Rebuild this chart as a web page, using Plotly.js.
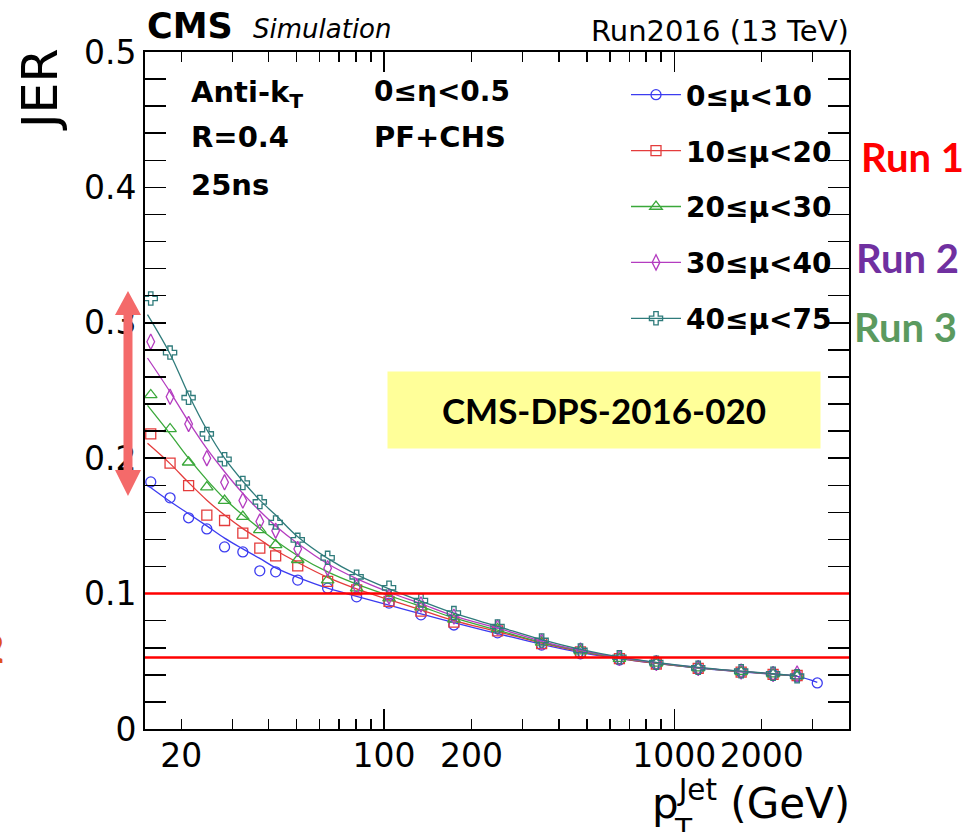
<!DOCTYPE html>
<html>
<head>
<meta charset="utf-8">
<script src="https://cdn.plot.ly/plotly-3.0.1.min.js"></script>
<style>
  html, body { margin: 0; padding: 0; background: #fff; }
  #chart { width: 971px; height: 832px; }
</style>
</head>
<body>
<div id="chart"></div>
<script>
// Jet pT bin centres (GeV)
const ptBins = [15.7, 18.3, 21.2, 24.5, 28.2, 32.6, 37.3, 42.3, 50.4, 63.9, 80.4, 104, 134, 174, 246, 349, 475, 647, 867, 1209, 1700, 2190, 2650];
const ptBinsLow = ptBins.concat([3110]);

// Measured jet energy resolution per pile-up bin
const jerMu0to10  = [0.1825, 0.1707, 0.156, 0.1478, 0.1345, 0.1308, 0.1168, 0.1161, 0.110, 0.1040, 0.0976, 0.0930, 0.0843, 0.0768, 0.0710, 0.0620, 0.0555, 0.0510, 0.0478, 0.0445, 0.0420, 0.0402, 0.0385, 0.0340];
const jerMu10to20 = [0.218, 0.1963, 0.1798, 0.158, 0.154, 0.1446, 0.1336, 0.1279, 0.1205, 0.109, 0.1028, 0.0942, 0.0870, 0.0790, 0.0725, 0.0630, 0.0570, 0.0520, 0.0480, 0.0448, 0.0420, 0.0403, 0.0395];
const jerMu20to30 = [0.2467, 0.2216, 0.197, 0.1786, 0.1687, 0.1569, 0.147, 0.136, 0.125, 0.110, 0.104, 0.0967, 0.090, 0.081, 0.074, 0.0640, 0.0575, 0.0520, 0.0485, 0.0450, 0.0423, 0.0405, 0.0390];
const jerMu30to40 = [0.286, 0.2454, 0.2253, 0.200, 0.1822, 0.1687, 0.1532, 0.1465, 0.133, 0.1188, 0.1052, 0.0979, 0.092, 0.083, 0.075, 0.0645, 0.0580, 0.0525, 0.0487, 0.0450, 0.0425, 0.0406, 0.0410];
const jerMu40to75 = [0.318, 0.278, 0.2447, 0.2179, 0.1992, 0.1817, 0.1677, 0.1525, 0.1397, 0.1264, 0.1124, 0.1043, 0.0949, 0.0856, 0.0757, 0.0654, 0.0580, 0.0530, 0.0490, 0.0452, 0.0427, 0.0408, 0.0390];

// Resolution fit curves, sampled along pT
const fitPt = [15.3, 18.3, 21.2, 24.5, 28.2, 32.6, 37.3, 42.3, 50.4, 63.9, 80.4, 104, 134, 174, 246, 349, 475, 647, 867, 1209, 1700, 2190, 2650];
const fitPtLow = fitPt.concat([3110]);
const fitMu0to10  = [0.180, 0.168, 0.159, 0.150, 0.141, 0.133, 0.126, 0.119, 0.112, 0.104, 0.098, 0.0915, 0.085, 0.0785, 0.0705, 0.0625, 0.0565, 0.052, 0.0485, 0.045, 0.0423, 0.0404, 0.0388, 0.0345];
const fitMu10to20 = [0.211, 0.196, 0.182, 0.169, 0.158, 0.148, 0.140, 0.132, 0.123, 0.112, 0.1035, 0.0955, 0.088, 0.080, 0.0720, 0.0635, 0.0572, 0.0522, 0.0485, 0.0451, 0.0424, 0.0405, 0.0390];
const fitMu20to30 = [0.239, 0.218, 0.200, 0.184, 0.170, 0.158, 0.148, 0.139, 0.128, 0.116, 0.107, 0.0985, 0.0905, 0.082, 0.0730, 0.0640, 0.0576, 0.0525, 0.0487, 0.0452, 0.0425, 0.0406, 0.0391];
const fitMu30to40 = [0.274, 0.249, 0.227, 0.207, 0.190, 0.174, 0.161, 0.150, 0.137, 0.122, 0.111, 0.101, 0.0925, 0.0835, 0.0745, 0.0648, 0.0580, 0.0528, 0.0490, 0.0454, 0.0426, 0.0407, 0.0392];
const fitMu40to75 = [0.306, 0.277, 0.247, 0.221, 0.200, 0.183, 0.169, 0.158, 0.142, 0.126, 0.114, 0.1035, 0.0945, 0.0855, 0.0758, 0.0660, 0.0588, 0.0532, 0.0492, 0.0455, 0.0427, 0.0408, 0.0392];

const seriesNames = ['0≤μ&lt;10', '10≤μ&lt;20', '20≤μ&lt;30', '30≤μ&lt;40', '40≤μ&lt;75'];

// Axis ticks
const xTickVals = [20, 100, 200, 1000, 2000];
const xTickText = ['20', '100', '200', '1000', '2000'];
const xLongTicks = [100, 1000];
const xMinorTicks = [30, 40, 50, 60, 70, 80, 90, 300, 400, 500, 600, 700, 800, 900, 3000];
const yTickVals = [0, 0.1, 0.2, 0.3, 0.4, 0.5];
const yTickText = ['0', '0.1', '0.2', '0.3', '0.4', '0.5'];

// Horizontal reference levels
const refLevels = [0.1, 0.0528];

const series = [
  { x: ptBinsLow, y: jerMu0to10,  fx: fitPtLow, fy: fitMu0to10,  color: '#3c3cf0', symbol: 'circle-open',       size: 10 },
  { x: ptBins,    y: jerMu10to20, fx: fitPt,    fy: fitMu10to20, color: '#e43c3c', symbol: 'square-open',       size: 10 },
  { x: ptBins,    y: jerMu20to30, fx: fitPt,    fy: fitMu20to30, color: '#3aa83a', symbol: 'triangle-up-open',  size: 11 },
  { x: ptBins,    y: jerMu30to40, fx: fitPt,    fy: fitMu30to40, color: '#b43cc0', symbol: 'diamond-tall-open', size: 11 },
  { x: ptBins,    y: jerMu40to75, fx: fitPt,    fy: fitMu40to75, color: '#2f7b7b', symbol: 'cross-open',        size: 11 }
];

const traces = [];
series.forEach((s, i) => {
  traces.push({
    x: s.fx, y: s.fy, type: 'scatter', mode: 'lines',
    line: { color: s.color, width: 1.3, shape: 'spline', smoothing: 1 },
    showlegend: false, hoverinfo: 'skip', legendgroup: 'g' + i
  });
  traces.push({
    x: s.x, y: s.y, type: 'scatter', mode: 'markers',
    marker: { symbol: s.symbol, size: s.size, color: s.color, line: { width: 1.3, color: s.color } },
    showlegend: false, legendgroup: 'g' + i
  });
});
// Legend keys (line + marker), no points of their own
series.forEach((s, i) => {
  traces.push({
    x: [null], y: [null], type: 'scatter', mode: 'lines+markers', xaxis: 'x2',
    name: seriesNames[i], legendgroup: 'g' + i,
    line: { color: s.color, width: 1.3 },
    marker: { symbol: s.symbol, size: s.size, color: s.color, line: { width: 1.3, color: s.color } }
  });
});

// pixel -> paper helpers for the frame at x 145..849, y 52..729
const px = v => (v - 145) / 704;
const py = v => (729 - v) / 677;

const ROOT = 'DejaVu Sans';
const SLIDE = 'Lato';

function txt(text, x, y, size, opts) {
  return Object.assign({
    text: text, xref: 'paper', yref: 'paper', x: px(x), y: py(y),
    xanchor: 'left', yanchor: 'middle', showarrow: false,
    font: { family: ROOT, size: size, color: '#000' }
  }, opts || {});
}

const annotations = [
  txt('<b>CMS</b>', 145, 26, 35),
  txt('<i>Simulation</i>', 251, 29, 26),
  txt('Run2016 (13 TeV)', 851, 31, 29, { xanchor: 'right' }),
  txt('JER', 40, 90, 49, { xanchor: 'center', textangle: -90 }),
  txt('p<sup>Jet</sup> (GeV)', 852, 800, 42, { xanchor: 'right' }),
  txt('T', 683, 829, 28, { xanchor: 'center' }),
  txt('<b>Anti-k<sub>T</sub></b>', 189, 94, 29),
  txt('<b>R=0.4</b>', 189, 137, 29),
  txt('<b>25ns</b>', 189, 185, 29),
  txt('<b>0≤η&lt;0.5</b>', 372, 91, 28),
  txt('<b>PF+CHS</b>', 372, 137, 29),
  txt('<b>CMS-DPS-2016-020</b>', 604, 410, 35, {
    xanchor: 'center', font: { family: SLIDE, size: 35, color: '#000' },
    bgcolor: '#ffff99', width: 432, height: 76, borderpad: 0, align: 'center', valign: 'middle'
  }),
  txt('<b>Run 1</b>', 859, 157, 40, { font: { family: SLIDE, size: 40, color: '#ff0000' } }),
  txt('<b>Run 2</b>', 854, 258, 40, { font: { family: SLIDE, size: 40, color: '#7030a0' } }),
  txt('<b>Run 3</b>', 852, 327, 40, { font: { family: SLIDE, size: 40, color: '#5b9a5f' } }),
  txt('<b>2</b>', 6, 648, 40, { xanchor: 'right', font: { family: SLIDE, size: 40, color: '#e0501b' } })
];

// Double-headed arrow beside the low-pT spread
const arrowPts = [[128, 291], [141, 315], [132.5, 315], [132.5, 470], [141, 470], [128, 496], [115, 470], [123.5, 470], [123.5, 315], [115, 315]];
const arrowPath = 'M' + arrowPts.map(p => px(p[0]).toFixed(5) + ',' + py(p[1]).toFixed(5)).join(' L') + ' Z';

const shapes = refLevels.map(v => ({
  type: 'line', xref: 'paper', yref: 'y', x0: 0, x1: 1, y0: v, y1: v,
  line: { color: '#ff0000', width: 2.5 }, layer: 'above'
}));
shapes.push({
  type: 'path', xref: 'paper', yref: 'paper', path: arrowPath,
  fillcolor: '#f46a6a', line: { width: 0 }, layer: 'above'
});

const xRange = [Math.log10(15), Math.log10(4000)];

const layout = {
  width: 971, height: 832,
  margin: { l: 145, r: 122, t: 52, b: 103, pad: 0 },
  paper_bgcolor: '#fff', plot_bgcolor: '#fff',
  showlegend: true,
  legend: {
    x: px(626), y: py(70), xanchor: 'left', yanchor: 'top',
    bgcolor: 'rgba(0,0,0,0)', borderwidth: 0,
    font: { family: ROOT, size: 28, color: '#000', weight: 'bold' },
    itemwidth: 50, tracegroupgap: 16.5, traceorder: 'grouped', itemclick: false
  },
  xaxis: {
    type: 'log', range: xRange,
    tickmode: 'array', tickvals: xTickVals, ticktext: xTickText, tickangle: 0,
    ticks: 'inside', ticklen: 10, tickwidth: 1.5, tickcolor: '#000',
    mirror: 'allticks', showline: true, linewidth: 2, linecolor: '#000',
    showgrid: false, zeroline: false,
    tickfont: { family: ROOT, size: 33, color: '#000' }, ticklabelstandoff: -4,
    minor: { tickmode: 'array', tickvals: xMinorTicks, ticks: 'inside', ticklen: 10, tickwidth: 1.5, tickcolor: '#000', showgrid: false }
  },
  xaxis2: {
    type: 'log', range: xRange, overlaying: 'x', anchor: 'y', side: 'bottom',
    tickmode: 'array', tickvals: xLongTicks,
    ticks: 'inside', ticklen: 20, tickwidth: 1.5, tickcolor: '#000',
    mirror: 'allticks', showline: false, showgrid: false, zeroline: false, showticklabels: false
  },
  yaxis: {
    range: [0, 0.5],
    tickmode: 'array', tickvals: yTickVals, ticktext: yTickText,
    ticks: 'inside', ticklen: 21, tickwidth: 1.5, tickcolor: '#000',
    mirror: 'allticks', showline: true, linewidth: 2, linecolor: '#000',
    showgrid: false, zeroline: false,
    tickfont: { family: ROOT, size: 33, color: '#000' }, ticklabelstandoff: 0,
    minor: { dtick: 0.02, tick0: 0, ticks: 'inside', ticklen: 11, tickwidth: 1.5, tickcolor: '#000', showgrid: false }
  },
  annotations: annotations,
  shapes: shapes
};

Plotly.newPlot('chart', traces, layout, { staticPlot: true, displayModeBar: false });
</script>
</body>
</html>
